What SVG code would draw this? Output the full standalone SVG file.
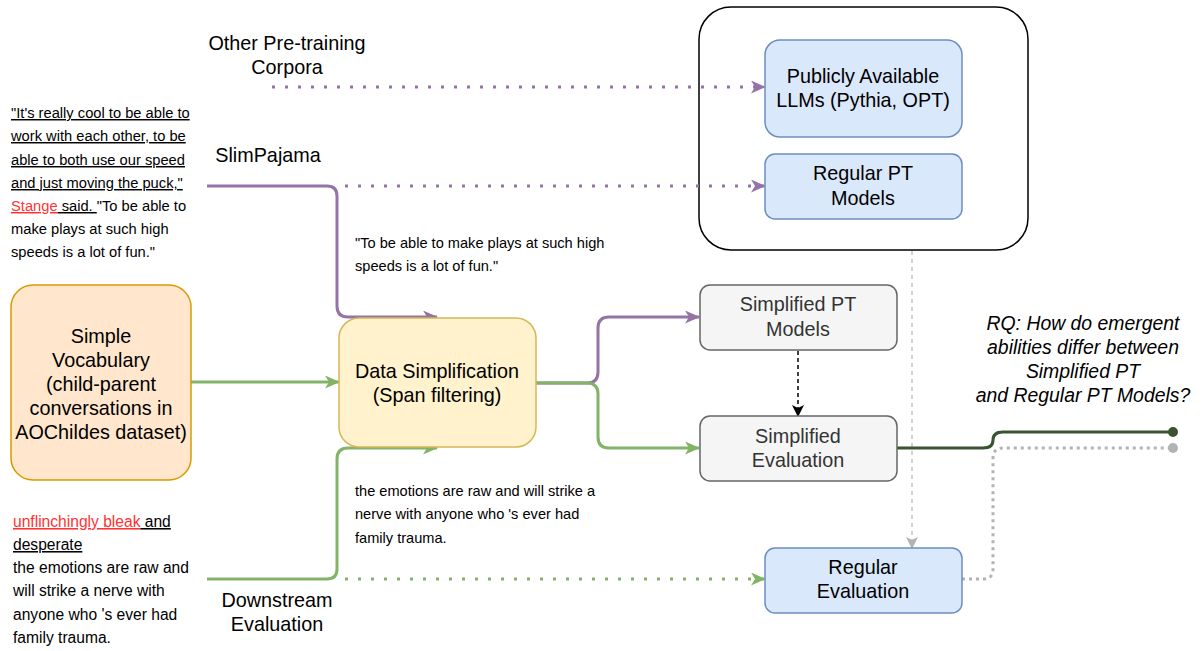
<svg xmlns="http://www.w3.org/2000/svg" width="1203" height="651" viewBox="0 0 1203 651">
<style>
text{font-family:"Liberation Sans",Arial,sans-serif;fill:#000}
.n{font-size:19.8px;text-anchor:middle}
.q{font-size:19.4px;text-anchor:middle;font-style:italic}
.g{fill:#333}
.s{font-size:14.7px}
.b{font-size:15.6px}
.m{font-size:14.6px}
.u{text-decoration:underline}
.r{fill:#ff3333}
.blue{fill:#dae8fc;stroke:#6c8ebf;stroke-width:1.5}
.gray{fill:#f5f5f5;stroke:#666;stroke-width:1.5}
.ln{fill:none;stroke-width:3}
.pu{stroke:#9673a6}
.gr{stroke:#82b366}
.dot{stroke-dasharray:3 10}
</style>
<defs>
<marker id="ap" markerUnits="userSpaceOnUse" markerWidth="15" markerHeight="13" refX="14" refY="6.5" orient="auto"><path d="M0,0 L15,6.5 L0,13 L4,6.5 z" fill="#9673a6"/></marker>
<marker id="ag" markerUnits="userSpaceOnUse" markerWidth="15" markerHeight="13" refX="14" refY="6.5" orient="auto"><path d="M0,0 L15,6.5 L0,13 L4,6.5 z" fill="#82b366"/></marker>
<marker id="ak" markerUnits="userSpaceOnUse" markerWidth="12" markerHeight="12" refX="11" refY="6" orient="auto"><path d="M0,0 L12,6 L0,12 L3,6 z" fill="#000"/></marker>
<marker id="ay" markerUnits="userSpaceOnUse" markerWidth="12" markerHeight="12" refX="11" refY="6" orient="auto"><path d="M0,0 L12,6 L0,12 L3,6 z" fill="#b3b3b3"/></marker>
</defs>

<g id="container"><rect x="699" y="7" width="329" height="243" rx="32" fill="#fff" stroke="#000" stroke-width="1.5"/></g>

<g id="connectors">
<path class="ln pu dot" d="M272,87 L765,87" marker-end="url(#ap)"/>
<path class="ln pu" d="M207,186 L327,186 Q337,186 337,196 L337,306 Q337,317 348,317 L437,317" marker-end="url(#ap)"/>
<path class="ln pu dot" d="M345,186 L765,186" marker-end="url(#ap)"/>
<path class="ln gr" d="M191,382 L339,382" marker-end="url(#ag)"/>
<path class="ln pu" d="M536,383 L587,383 Q598,383 598,372 L598,328 Q598,317 609,317 L699,317" marker-end="url(#ap)"/>
<path class="ln gr" d="M536,383 L587,383 Q598,383 598,394 L598,437 Q598,448 609,448 L699,448" marker-end="url(#ag)"/>
<path class="ln gr" d="M207,579 L327,579 Q337,579 337,569 L337,459 Q337,448 348,448 L437,448" marker-end="url(#ag)"/>
<path class="ln gr dot" d="M345,579 L765,579" marker-end="url(#ag)"/>
<path fill="none" stroke="#000" stroke-width="1.5" stroke-dasharray="4 3" d="M798,351 L798,416" marker-end="url(#ak)"/>
<path fill="none" stroke="#b3b3b3" stroke-width="1.2" stroke-dasharray="4 4" d="M912,251 L912,548" marker-end="url(#ay)"/>
<path fill="none" stroke="#3a5431" stroke-width="3" d="M897,448 L983,448 Q993,448 993,440 Q993,432 1003,432 L1173,432"/>
<circle cx="1173" cy="432" r="5" fill="#3a5431"/>
<path fill="none" stroke="#b3b3b3" stroke-width="3" stroke-dasharray="3 4" d="M962,579 L983,579 Q993,579 993,569 L993,458 Q993,448 1003,448 L1173,448"/>
<circle cx="1173" cy="448" r="5" fill="#b3b3b3"/>
</g>

<g id="publicly-available">
<rect class="blue" x="765" y="40" width="197" height="97" rx="15"/>
<text class="n" x="863" y="83">Publicly Available</text>
<text class="n" x="863" y="107">LLMs (Pythia, OPT)</text>
</g>
<g id="regular-pt-models">
<rect class="blue" x="765" y="154" width="197" height="65" rx="10"/>
<text class="n" x="863" y="180">Regular PT</text>
<text class="n" x="863" y="205">Models</text>
</g>
<g id="simplified-pt-models">
<rect class="gray" x="700" y="285" width="197" height="65" rx="10"/>
<text class="n g" x="798" y="311">Simplified PT</text>
<text class="n g" x="798" y="336">Models</text>
</g>
<g id="simplified-evaluation">
<rect class="gray" x="700" y="416" width="197" height="65" rx="10"/>
<text class="n g" x="798" y="443">Simplified</text>
<text class="n g" x="798" y="467">Evaluation</text>
</g>
<g id="regular-evaluation">
<rect class="blue" x="765" y="548" width="197" height="65" rx="10"/>
<text class="n" x="863" y="574">Regular</text>
<text class="n" x="863" y="598">Evaluation</text>
</g>
<g id="data-simplification">
<rect x="339" y="318" width="197" height="129" rx="20" fill="#fff2cc" stroke="#d6b656" stroke-width="1.5"/>
<text class="n" x="437" y="378">Data Simplification</text>
<text class="n" x="437" y="402">(Span filtering)</text>
</g>
<g id="simple-vocabulary">
<rect x="11" y="285" width="180" height="195" rx="22" fill="#ffe6cc" stroke="#d79b00" stroke-width="1.5"/>
<text class="n" x="101" y="343">Simple</text>
<text class="n" x="101" y="367">Vocabulary</text>
<text class="n" x="101" y="391">(child-parent</text>
<text class="n" x="101" y="415">conversations in</text>
<text class="n" x="101" y="439">AOChildes dataset)</text>
</g>

<g id="labels">
<text class="n" x="287" y="50">Other Pre-training</text>
<text class="n" x="287" y="74">Corpora</text>
<text class="n" x="268" y="162">SlimPajama</text>
<text class="n" x="277" y="607">Downstream</text>
<text class="n" x="277" y="631">Evaluation</text>

<text class="s" x="11" y="118"><tspan class="u">"It's really cool to be able to</tspan></text>
<text class="s" x="11" y="141"><tspan class="u">work with each other, to be </tspan></text>
<text class="s" x="11" y="165"><tspan class="u">able to both use our speed </tspan></text>
<text class="s" x="11" y="188"><tspan class="u">and just moving the puck,"</tspan></text>
<text class="s" x="11" y="211"><tspan class="u r">Stange</tspan><tspan class="u"> said. </tspan>"To be able to</text>
<text class="s" x="11" y="234">make plays at such high</text>
<text class="s" x="11" y="257">speeds is a lot of fun."</text>

<text class="m" x="355" y="248">"To be able to make plays at such high</text>
<text class="m" x="355" y="271">speeds is a lot of fun."</text>

<text class="m" x="355" y="496">the emotions are raw and will strike a</text>
<text class="m" x="355" y="519">nerve with anyone who 's ever had</text>
<text class="m" x="355" y="543">family trauma.</text>

<text class="b" x="13" y="527"><tspan class="u r">unflinchingly bleak</tspan><tspan class="u"> and</tspan></text>
<text class="b" x="13" y="550"><tspan class="u">desperate</tspan></text>
<text class="b" x="13" y="573">the emotions are raw and</text>
<text class="b" x="13" y="596">will strike a nerve with</text>
<text class="b" x="13" y="620">anyone who 's ever had</text>
<text class="b" x="13" y="643">family trauma.</text>

<text class="q" x="1083" y="330">RQ: How do emergent</text>
<text class="q" x="1083" y="354">abilities differ between</text>
<text class="q" x="1083" y="378">Simplified PT</text>
<text class="q" x="1083" y="402">and Regular PT Models?</text>
</g>
</svg>
